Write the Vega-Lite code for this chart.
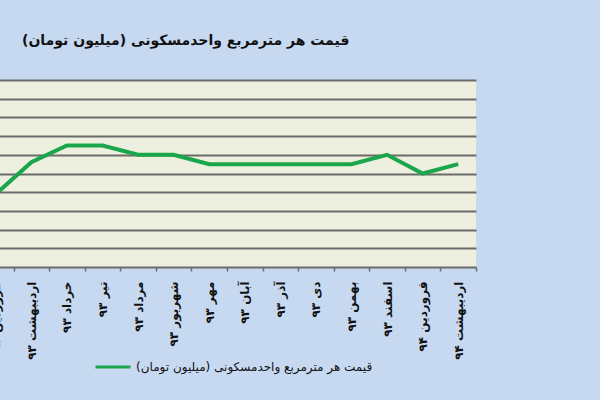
{
  "$schema": "https://vega.github.io/schema/vega-lite/v6.json",
  "width": 498,
  "height": 187,
  "autosize": "none",
  "padding": {"left": -22, "top": 80, "right": 124, "bottom": 133},
  "background": "#c6d9f1",
  "title": {
    "text": "قیمت هر مترمربع واحدمسکونی (میلیون تومان)",
    "anchor": "start",
    "frame": "group",
    "dx": 44,
    "offset": 32,
    "font": "DejaVu Sans",
    "fontSize": 14,
    "fontWeight": "bold",
    "color": "#111111"
  },
  "data": {
    "values": [
      {"month": "فروردین ۹۳", "price": 3.89, "series": "قیمت هر مترمربع واحدمسکونی (میلیون تومان)"},
      {"month": "اردیبهشت ۹۳", "price": 4.06, "series": "قیمت هر مترمربع واحدمسکونی (میلیون تومان)"},
      {"month": "خرداد ۹۳", "price": 4.15, "series": "قیمت هر مترمربع واحدمسکونی (میلیون تومان)"},
      {"month": "تیر ۹۳", "price": 4.15, "series": "قیمت هر مترمربع واحدمسکونی (میلیون تومان)"},
      {"month": "مرداد ۹۳", "price": 4.1, "series": "قیمت هر مترمربع واحدمسکونی (میلیون تومان)"},
      {"month": "شهریور ۹۳", "price": 4.1, "series": "قیمت هر مترمربع واحدمسکونی (میلیون تومان)"},
      {"month": "مهر ۹۳", "price": 4.05, "series": "قیمت هر مترمربع واحدمسکونی (میلیون تومان)"},
      {"month": "آبان ۹۳", "price": 4.05, "series": "قیمت هر مترمربع واحدمسکونی (میلیون تومان)"},
      {"month": "آذر ۹۳", "price": 4.05, "series": "قیمت هر مترمربع واحدمسکونی (میلیون تومان)"},
      {"month": "دی ۹۳", "price": 4.05, "series": "قیمت هر مترمربع واحدمسکونی (میلیون تومان)"},
      {"month": "بهمن ۹۳", "price": 4.05, "series": "قیمت هر مترمربع واحدمسکونی (میلیون تومان)"},
      {"month": "اسفند ۹۳", "price": 4.1, "series": "قیمت هر مترمربع واحدمسکونی (میلیون تومان)"},
      {"month": "فروردین ۹۴", "price": 4.0, "series": "قیمت هر مترمربع واحدمسکونی (میلیون تومان)"},
      {"month": "اردیبهشت ۹۴", "price": 4.05, "series": "قیمت هر مترمربع واحدمسکونی (میلیون تومان)"}
    ]
  },
  "mark": {"type": "line", "strokeWidth": 4},
  "encoding": {
    "x": {
      "field": "month",
      "type": "nominal",
      "sort": null,
      "title": null,
      "scale": {"type": "band", "paddingInner": 0, "paddingOuter": 0},
      "axis": {
        "tickBand": "extent",
        "labelAngle": -90,
        "labelPadding": 10,
        "labelFont": "DejaVu Sans",
        "labelFontSize": 12,
        "labelFontWeight": "bold",
        "labelColor": "#111111",
        "labelOverlap": false,
        "domainColor": "#6b6b6b",
        "domainWidth": 2,
        "tickColor": "#6b6b6b",
        "tickWidth": 1.5,
        "tickSize": 4,
        "grid": false
      }
    },
    "y": {
      "field": "price",
      "type": "quantitative",
      "title": null,
      "scale": {"domain": [3.5, 4.5], "zero": false, "nice": false},
      "axis": {
        "values": [3.6, 3.7, 3.8, 3.9, 4.0, 4.1, 4.2, 4.3, 4.4, 4.5],
        "labels": false,
        "ticks": false,
        "domain": false,
        "grid": true,
        "gridColor": "#6b6b6b",
        "gridWidth": 2
      }
    },
    "color": {
      "field": "series",
      "type": "nominal",
      "scale": {"range": ["#1ba64b"]},
      "legend": {
        "orient": "none",
        "legendX": 116,
        "legendY": 268,
        "title": null,
        "symbolType": "stroke",
        "symbolSize": 1225,
        "symbolStrokeWidth": 3,
        "labelFont": "DejaVu Sans",
        "labelFontSize": 12,
        "labelColor": "#111111",
        "labelOffset": 4,
        "labelLimit": 400
      }
    }
  },
  "config": {"view": {"fill": "#eef0df", "stroke": null}}
}
